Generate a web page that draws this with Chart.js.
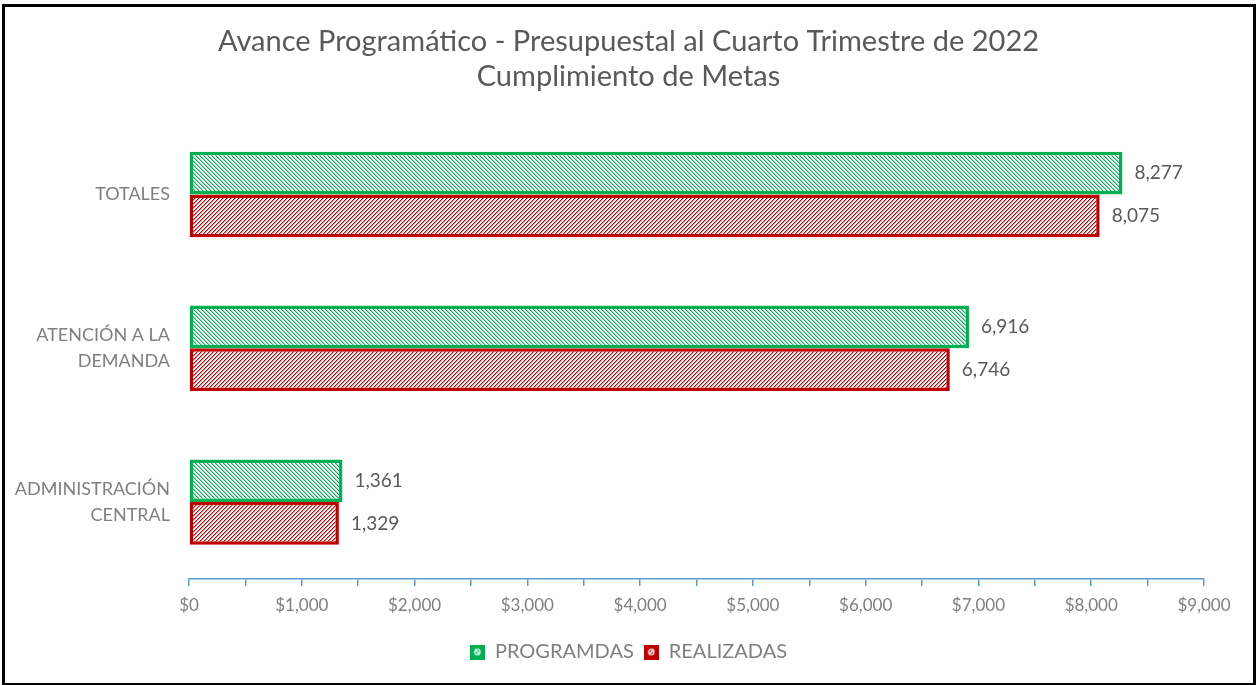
<!DOCTYPE html>
<html>
<head>
<meta charset="utf-8">
<script src="https://cdn.jsdelivr.net/npm/chart.js@4.4.0/dist/chart.umd.min.js"></script>
<style>
  html, body { margin: 0; padding: 0; background: #fff; }
  #wrap { position: relative; width: 1257px; height: 685px; }
  #frame { position: absolute; left: 2px; top: 4px; width: 1248px; height: 676px; border: 3px solid #000; pointer-events: none; }
  canvas { position: absolute; left: 0; top: 0; }
</style>
</head>
<body>
<div id="wrap">
  <canvas id="c" width="1257" height="685"></canvas>
  <div id="frame"></div>
</div>
<script>
// Categories and values
const categories = ['TOTALES', ['ATENCIÓN A LA', 'DEMANDA'], ['ADMINISTRACIÓN', 'CENTRAL']];
const programadas = [8277, 6916, 1361];
const realizadas = [8075, 6746, 1329];
const seriesNames = ['PROGRAMDAS', 'REALIZADAS'];
const titleLines = ['Avance Programático - Presupuestal al Cuarto Trimestre de 2022', 'Cumplimiento de Metas'];

const GREEN = '#00B050';
const RED = '#C00000';
const FONT = 'Lato, "Open Sans", sans-serif';

// Diagonal hatch pattern tile; dir = 1 for "\" lines, -1 for "/" lines
function hatch(rgb, dir) {
  const t = document.createElement('canvas');
  t.width = 4; t.height = 4;
  const g = t.getContext('2d');
  const img = g.createImageData(4, 4);
  for (let y = 0; y < 4; y++) {
    for (let x = 0; x < 4; x++) {
      const k = ((dir > 0 ? x - y : x + y) % 4 + 4) % 4;
      let a = 0;
      if (k === 0) a = 1.0;
      else if (k === 1) a = 0.45;
      const i = (y * 4 + x) * 4;
      img.data[i] = Math.round(255 + (rgb[0] - 255) * a);
      img.data[i + 1] = Math.round(255 + (rgb[1] - 255) * a);
      img.data[i + 2] = Math.round(255 + (rgb[2] - 255) * a);
      img.data[i + 3] = 255;
    }
  }
  g.putImageData(img, 0, 0);
  return document.getElementById('c').getContext('2d').createPattern(t, 'repeat');
}

// Small legend swatch: solid square with a light mark
function swatch(color, dir) {
  const s = document.createElement('canvas');
  s.width = 15; s.height = 15;
  const g = s.getContext('2d');
  g.fillStyle = color;
  g.fillRect(0, 0, 15, 15);
  g.strokeStyle = '#ffffff';
  g.lineWidth = 1.2;
  g.beginPath();
  g.arc(7.5, 7.5, 2.6, 0, Math.PI * 2);
  g.stroke();
  g.beginPath();
  if (dir > 0) { g.moveTo(5, 5); g.lineTo(10, 10); } else { g.moveTo(10, 5); g.lineTo(5, 10); }
  g.stroke();
  return s;
}

// Value labels at the end of each bar
const valueLabels = {
  id: 'valueLabels',
  afterDatasetsDraw(chart) {
    const ctx = chart.ctx;
    ctx.save();
    ctx.font = '19px ' + FONT;
    ctx.fillStyle = '#595959';
    ctx.textAlign = 'left';
    ctx.textBaseline = 'middle';
    chart.data.datasets.forEach((ds, di) => {
      chart.getDatasetMeta(di).data.forEach((el, i) => {
        ctx.fillText(ds.data[i].toLocaleString('en-US'), el.x + 12, el.y);
      });
    });
    ctx.restore();
  }
};

new Chart(document.getElementById('c'), {
  type: 'bar',
  data: {
    labels: categories,
    datasets: [
      {
        label: seriesNames[0],
        data: programadas,
        backgroundColor: hatch([0, 176, 80], 1),
        borderColor: GREEN,
        borderWidth: 3.5,
        borderSkipped: false,
        pointStyle: swatch(GREEN, 1)
      },
      {
        label: seriesNames[1],
        data: realizadas,
        backgroundColor: hatch([192, 0, 0], -1),
        borderColor: RED,
        borderWidth: 3.5,
        borderSkipped: false,
        pointStyle: swatch(RED, -1)
      }
    ]
  },
  options: {
    indexAxis: 'y',
    responsive: false,
    animation: false,
    categoryPercentage: 0.555,
    barPercentage: 1.0,
    layout: { padding: { left: 0, right: 0, top: 0, bottom: 13 } },
    scales: {
      x: {
        min: 0,
        max: 9000,
        afterFit(scale) {
          scale.height = 53;
          scale.paddingLeft = 0;
          scale.paddingRight = 53;
        },
        grid: { display: true, drawOnChartArea: false, drawTicks: true, tickLength: 7, color: '#5B9BD5', lineWidth: 1.5 },
        border: { display: true, color: '#5B9BD5', width: 1.5 },
        ticks: {
          stepSize: 500,
          autoSkip: false,
          maxRotation: 0,
          padding: 9,
          color: '#7F7F7F',
          font: { family: FONT, size: 17 },
          callback: (v) => (v % 1000 === 0 ? '$' + v.toLocaleString('en-US') : '')
        }
      },
      y: {
        afterFit(scale) { scale.width = 189; },
        grid: { display: false, drawTicks: false },
        border: { display: false },
        ticks: {
          padding: 19,
          color: '#7F7F7F',
          font: { family: FONT, size: 18, lineHeight: 1.45 }
        }
      }
    },
    plugins: {
      title: {
        display: true,
        text: titleLines,
        color: '#595959',
        font: { family: FONT, size: 29, weight: 'normal', lineHeight: 1.2 },
        padding: { top: 24, bottom: 24 }
      },
      legend: {
        position: 'bottom',
        labels: {
          usePointStyle: true,
          boxWidth: 15,
          boxHeight: 15,
          padding: 10,
          color: '#7F7F7F',
          font: { family: FONT, size: 20 }
        }
      },
      tooltip: { enabled: false }
    }
  },
  plugins: [valueLabels]
});
</script>
</body>
</html>
